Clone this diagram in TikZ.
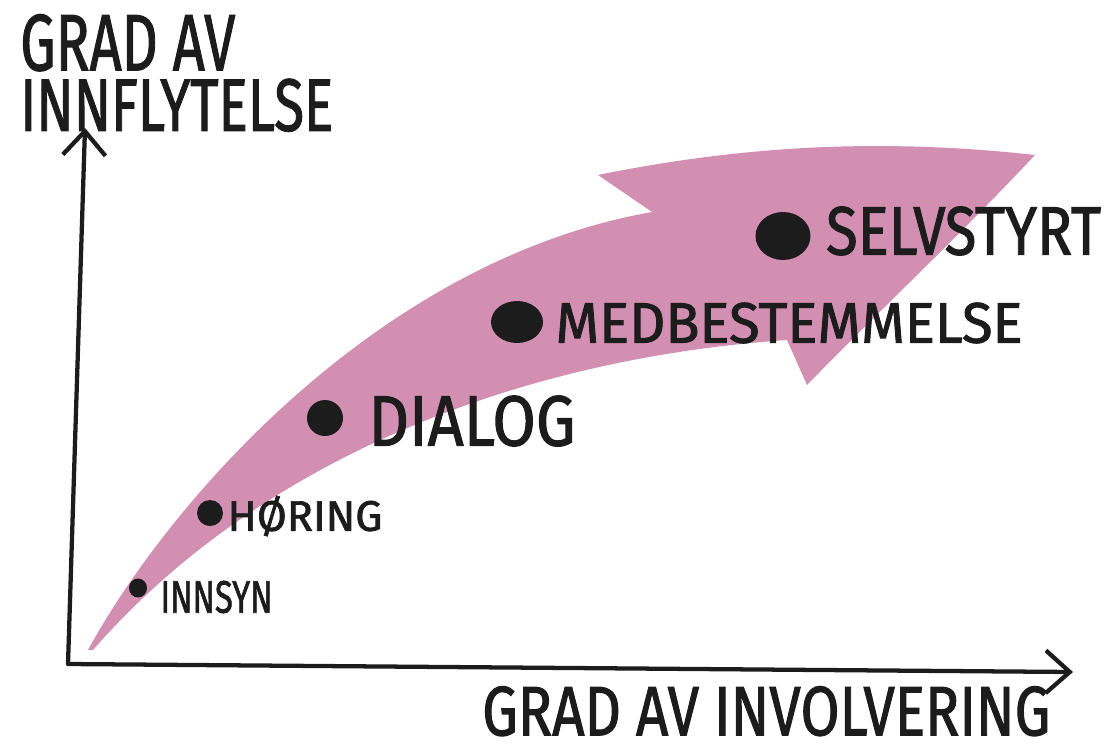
\documentclass[tikz,border=0pt]{standalone}
\usepackage{fontspec}
\setmainfont{Fira Sans}
\newfontfamily\handfont{Fira Sans}[FakeBold=1.6]
\usepackage{graphicx}
\usetikzlibrary{positioning, shapes.geometric, arrows.meta}

\definecolor{arrowpink}{RGB}{211,143,178}
\definecolor{ink}{RGB}{28,28,28}
\newlength{\pxu}
\setlength{\pxu}{0.75pt}
\newcommand{\hand}[3]{\resizebox{#1\pxu}{#2\pxu}{#3}}

\begin{document}
\begin{tikzpicture}[
    x=0.75pt, y=-0.75pt,
    dot/.style={ellipse, fill=ink, inner sep=0pt},
    stage/.style={inner sep=0pt, text=ink, font=\handfont},
    axis/.style={draw=ink, line width=3.2pt, line cap=round, line join=round}
]
\useasboundingbox (0,0) rectangle (1112,746);

% Big pink arrow
\fill[arrowpink] (88,650) .. controls (170,500) and (380,260) .. (652,212)
    -- (598,175)
    .. controls (760,142) and (900,140) .. (1035,155)
    .. controls (960,235) and (880,310) .. (807,385)
    -- (787,340)
    .. controls (500,360) and (250,470) .. (93,650)
    -- cycle;

% Axes
\coordinate (origin) at (68,664);
\coordinate (ytip) at (85,128);
\coordinate (xtip) at (1073,672);
\draw[axis, {Straight Barb[length=18pt, width=32pt]}-{Straight Barb[length=18pt, width=32pt]}] (ytip) -- (origin) -- (xtip);

% Axis titles
\node[stage, anchor=north west] (ytitletop) at (20,14) {\hand{215}{56}{GRAD AV}};
\node[stage, below=7\pxu of ytitletop.south west, anchor=north west] (ytitle) {\hand{313}{52}{INNFLYTELSE}};
\node[stage, anchor=north west] (xtitle) at (482,686) {\hand{568}{49}{GRAD AV INVOLVERING}};

% Dots
\node[dot, minimum width=18\pxu, minimum height=19\pxu] (innsyn) at (138,588) {};
\node[dot, minimum width=26\pxu, minimum height=26\pxu] (horing) at (210,513) {};
\node[dot, minimum width=36\pxu, minimum height=36\pxu] (dialog) at (325,418) {};
\node[dot, minimum width=52\pxu, minimum height=42\pxu] (medbest) at (517,322) {};
\node[dot, minimum width=55\pxu, minimum height=48\pxu] (selvstyrt) at (783,236) {};

% Stage labels
\node[stage, right=13\pxu of innsyn, yshift=-9\pxu] (innsynlbl) {\hand{112}{32}{INNSYN}};
\node[stage, right=4\pxu of horing, yshift=-3\pxu] (horinglbl) {\hand{155}{35}{HØRING}};
\node[stage, right=25\pxu of dialog, yshift=-3\pxu] (dialoglbl) {\hand{207}{50}{DIALOG}};
\node[stage, right=12\pxu of medbest, yshift=-1\pxu] (medbestlbl) {\hand{467}{40}{MEDBESTEMMELSE}};
\node[stage, right=15\pxu of selvstyrt, yshift=5\pxu] (selvstyrtlbl) {\hand{275}{48}{SELVSTYRT}};

\end{tikzpicture}
\end{document}
